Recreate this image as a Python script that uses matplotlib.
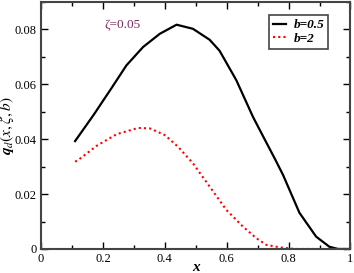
import numpy as np
import matplotlib
matplotlib.use('Agg')
from matplotlib import pyplot as plt
from matplotlib.ticker import MultipleLocator

# b = 0.5 curve
x_b05 = [0.110, 0.169, 0.223, 0.276, 0.330, 0.384, 0.438, 0.491, 0.545, 0.577,
         0.631, 0.685, 0.728, 0.755, 0.782, 0.835, 0.889, 0.932, 0.96, 1.00]
q_b05 = [0.0393, 0.0487, 0.0578, 0.0669, 0.0736, 0.0784, 0.0817, 0.0802, 0.0762,
         0.0722, 0.0615, 0.0481, 0.0388, 0.0330, 0.0270, 0.0132, 0.0045, 0.0008,
         0.0, 0.0]

# b = 2 curve
x_b2 = [0.110, 0.120, 0.180, 0.244, 0.314, 0.352, 0.400, 0.443, 0.491, 0.545,
        0.599, 0.653, 0.696, 0.728, 0.771, 0.82, 0.90, 1.00]
q_b2 = [0.0318, 0.0324, 0.0376, 0.0418, 0.0441, 0.0439, 0.0415, 0.0372, 0.0312,
        0.0227, 0.0142, 0.0081, 0.0039, 0.0015, 0.0006, 0.0, 0.0, 0.0]

xticks = [0, 0.2, 0.4, 0.6, 0.8, 1.0]
xticklabels = ['0', '0.2', '0.4', '0.6', '0.8', '1']
yticks = [0, 0.02, 0.04, 0.06, 0.08]
yticklabels = ['0', '0.02', '0.04', '0.06', '0.08']


def main():
    plt.rcParams['font.family'] = ['Liberation Serif', 'DejaVu Serif']
    plt.rcParams['mathtext.fontset'] = 'stix'

    fig = plt.figure(figsize=(3.54, 2.73), dpi=100)
    ax = fig.add_axes([0.116, 0.088, 0.874, 0.905])

    ax.plot(x_b05, q_b05, color='black', lw=1.6, label='b=0.5')
    ax.plot(x_b2, q_b2, color='red', lw=1.5, ls=(0, (1, 1.5)), label='b=2')

    ax.set_xlim(0, 1)
    ax.set_ylim(0, 0.09)
    ax.set_xticks(xticks)
    ax.set_xticklabels(xticklabels)
    ax.set_yticks(yticks)
    ax.set_yticklabels(yticklabels)
    ax.xaxis.set_minor_locator(MultipleLocator(0.1))
    ax.yaxis.set_minor_locator(MultipleLocator(0.01))
    ax.tick_params(which='both', direction='in', top=True, right=True,
                   labelsize=9, pad=3)
    ax.tick_params(which='major', length=5, width=1)
    ax.tick_params(which='minor', length=3, width=1)
    for s in ax.spines.values():
        s.set_linewidth(1.5)
        s.set_color('#444444')

    ax.set_xlabel('x', fontsize=11, fontweight='bold', fontstyle='italic',
                  labelpad=-3)
    ax.set_ylabel(r'$\mathbfit{q}_{d}(x,\zeta,b)$', fontsize=11)
    ax.yaxis.set_label_coords(-0.08, 0.5)

    ax.text(0.206, 0.0815, 'ζ=0.05', color='#7b2a5e', fontsize=9.5,
            va='center')

    leg = ax.legend(loc='upper right', bbox_to_anchor=(0.929, 0.947),
                    prop={'size': 9.5, 'weight': 'bold', 'style': 'italic'},
                    frameon=True, fancybox=False, handlelength=1.0,
                    handletextpad=0.6, borderpad=0.3, labelspacing=0.1,
                    borderaxespad=0, framealpha=1)
    leg.get_frame().set_edgecolor('#444444')
    leg.get_frame().set_linewidth(1.2)

    plt.savefig('out.png', dpi=100)


if __name__ == '__main__':
    main()
